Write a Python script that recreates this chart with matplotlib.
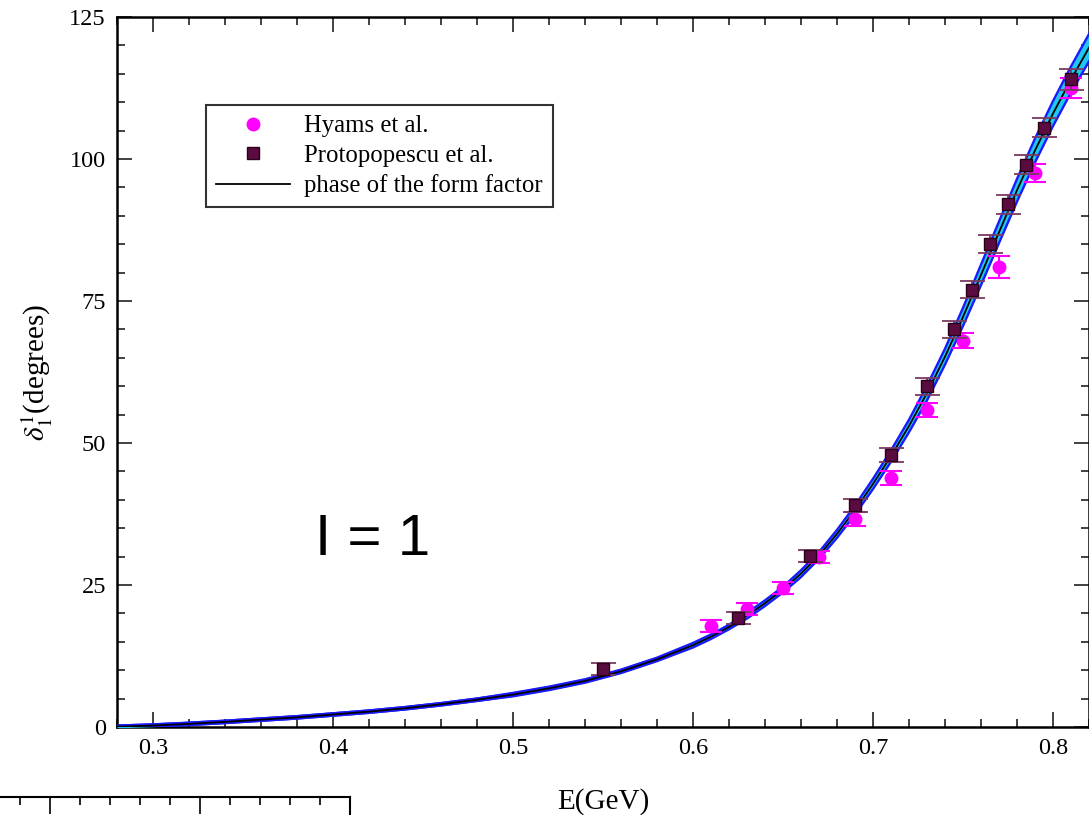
import matplotlib.pyplot as plt
import numpy as np
from matplotlib.ticker import MultipleLocator

plt.rcParams['font.family'] = ['Liberation Serif', 'DejaVu Serif']
plt.rcParams['mathtext.fontset'] = 'stix'

# Hyams et al. (magenta circles)
hyams_e = [0.61, 0.63, 0.65, 0.67, 0.69, 0.71, 0.73, 0.75, 0.77, 0.79, 0.81]
hyams_d = [17.8, 20.8, 24.5, 29.9, 36.6, 43.8, 55.8, 68.0, 81.0, 97.5, 112.5]
hyams_err = [1.0, 1.0, 1.0, 1.0, 1.2, 1.2, 1.3, 1.3, 2.0, 1.6, 1.8]

# Protopopescu et al. (dark squares)
proto_e = [0.55, 0.625, 0.665, 0.69, 0.71, 0.73, 0.745, 0.755, 0.765, 0.775, 0.785, 0.795, 0.81]
proto_d = [10.2, 19.2, 30.1, 39.0, 47.9, 60.0, 70.0, 77.0, 85.0, 92.0, 99.0, 105.5, 114.0]
proto_err = [1.0, 1.0, 1.0, 1.2, 1.3, 1.5, 1.5, 1.5, 1.6, 1.6, 1.7, 1.7, 1.8]

# phase of the form factor and its band half-width
curve_e = [0.28, 0.30, 0.32, 0.34, 0.36, 0.38, 0.40, 0.42, 0.44, 0.46, 0.48, 0.50,
           0.52, 0.54, 0.56, 0.58, 0.60, 0.61, 0.62, 0.63, 0.64, 0.65, 0.66, 0.67,
           0.68, 0.69, 0.70, 0.71, 0.72, 0.73, 0.74, 0.75, 0.76, 0.77, 0.78, 0.79,
           0.80, 0.81, 0.82]
curve_d = [0.05, 0.25, 0.55, 0.9, 1.3, 1.7, 2.2, 2.7, 3.3, 4.0, 4.8, 5.7,
           6.8, 8.1, 9.8, 11.9, 14.4, 15.9, 17.6, 19.6, 21.8, 24.2, 27.0, 30.2,
           34.0, 38.2, 42.8, 47.7, 53.0, 58.8, 65.2, 72.2, 79.6, 87.1, 94.5, 101.5,
           108.0, 114.0, 119.6]
band_hw = [0.2, 0.2, 0.2, 0.2, 0.2, 0.2, 0.2, 0.2, 0.2, 0.2, 0.2, 0.3,
           0.3, 0.3, 0.3, 0.3, 0.4, 0.4, 0.4, 0.5, 0.5, 0.5, 0.6, 0.6,
           0.7, 0.8, 0.9, 1.0, 1.1, 1.3, 1.4, 1.6, 1.8, 1.9, 2.0, 2.1,
           2.2, 2.3, 2.4]

fig = plt.figure(figsize=(10.89, 8.15), dpi=100)
ax = fig.add_axes([117/1089, 1-727/815, 1-117/1089, (727-17)/815])

lo = np.array(curve_d) - np.array(band_hw)
hi = np.array(curve_d) + np.array(band_hw)
ax.plot(curve_e, curve_d, color='#1010e0', lw=3.4, zorder=2, solid_capstyle='butt')
ax.fill_between(curve_e, lo, hi, color='#20c8f0', lw=0, zorder=3)
ax.plot(curve_e, lo, color='#1a1aff', lw=1.7, zorder=3)
ax.plot(curve_e, hi, color='#1a1aff', lw=1.7, zorder=3)
line, = ax.plot(curve_e, curve_d, color='black', lw=1.3, zorder=4)

h1 = ax.errorbar(hyams_e, hyams_d, yerr=hyams_err, fmt='o', ms=9,
                 color='#ff00ff', ecolor='#ff00ff', elinewidth=1.5,
                 capsize=8, capthick=1.5, zorder=5)
h2 = ax.errorbar(proto_e, proto_d, yerr=proto_err, fmt='s', ms=9,
                 mfc='#5a0c40', mec='#2a0018', ecolor='#7a3a62', elinewidth=1.3,
                 capsize=9, capthick=1.3, zorder=6)

ax.set_xlim(0.28, 0.82)
ax.set_ylim(0, 125)
ax.xaxis.set_major_locator(MultipleLocator(0.1))
ax.xaxis.set_minor_locator(MultipleLocator(0.02))
ax.yaxis.set_major_locator(MultipleLocator(25))
ax.yaxis.set_minor_locator(MultipleLocator(5))
ax.xaxis.set_major_formatter(plt.FuncFormatter(lambda v, p: f'{v:.1f}'))
ax.tick_params(which='both', direction='in', top=True, right=True, width=1.3,
               color='#333333', labelsize=17.5, pad=8)
ax.tick_params(which='major', length=11)
ax.tick_params(which='minor', length=6)
for s in ax.spines.values():
    s.set_linewidth(1.8)

ax.set_xlabel('E(GeV)', fontsize=21, labelpad=21)
ax.set_ylabel(r'$\delta_1^1$(degrees)', fontsize=21, labelpad=10)

ax.text(0.39, 30.3, 'I = 1', fontsize=42, family=['Liberation Sans', 'DejaVu Sans'])

leg = ax.legend([h1[0], h2[0], line],
                ['Hyams et al.', 'Protopopescu et al.', 'phase of the form factor'],
                loc='upper left', bbox_to_anchor=(0.092, 0.876), fontsize=17.8,
                fancybox=False, edgecolor='#333333', framealpha=1,
                handlelength=3.0, borderpad=0.4, labelspacing=0.3,
                handletextpad=0.55, borderaxespad=0)
leg.get_frame().set_linewidth(1.5)
leg.legend_handles[0].set_markersize(9)
leg.legend_handles[1].set_markersize(8)

# fragment of the next figure's frame at the bottom left
ax2 = fig.add_axes([0, 0, 350/1089, 18/815])
ax2.set_xlim(0, 350)
ax2.set_ylim(0, 1)
for k in ['left', 'bottom']:
    ax2.spines[k].set_visible(False)
ax2.spines['top'].set_linewidth(1.5)
ax2.spines['right'].set_linewidth(1.5)
ax2.set_xticks([50, 200], minor=False)
ax2.set_xticks([20, 80, 110, 140, 170, 230, 260, 290, 320], minor=True)
ax2.tick_params(which='both', bottom=False, top=True, labelbottom=False,
                left=False, labelleft=False, direction='in', width=1.2)
ax2.tick_params(which='major', length=12)
ax2.tick_params(which='minor', length=6)

fig.savefig('out.png', dpi=100)
